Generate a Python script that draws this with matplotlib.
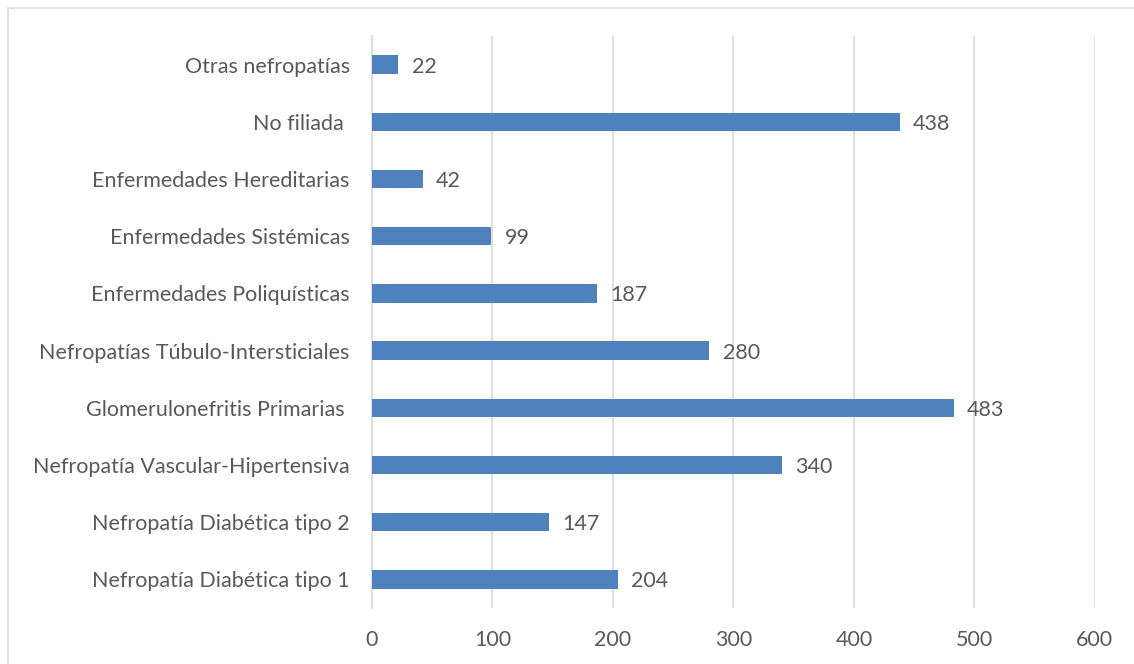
import matplotlib.pyplot as plt
from matplotlib.patches import Rectangle

plt.rcParams['font.family'] = ['Lato', 'DejaVu Sans']

categories = ["Nefropatía Diabética tipo 1", "Nefropatía Diabética tipo 2",
              "Nefropatía Vascular-Hipertensiva", "Glomerulonefritis Primarias ",
              "Nefropatías Túbulo-Intersticiales", "Enfermedades Poliquísticas",
              "Enfermedades Sistémicas", "Enfermedades Hereditarias",
              "No filiada ", "Otras nefropatías"]
values = [204, 147, 340, 483, 280, 187, 99, 42, 438, 22]
xticks = [0, 100, 200, 300, 400, 500, 600]

bar_color = '#4F81BD'
text_color = '#595959'
grid_color = '#D9D9D9'
fsize = 15.5

fig = plt.figure(figsize=(11.34, 6.64), dpi=100)
ax = fig.add_axes([0.328, 0.0843, 0.6375, 0.8615])

ax.barh(range(len(categories)), values, height=0.32, color=bar_color, zorder=3)
for i, v in enumerate(values):
    ax.text(v + 11, i, str(v), va='center_baseline', ha='left', fontsize=fsize, color=text_color)

ax.set_xlim(0, 600)
ax.set_ylim(-0.5, len(categories) - 0.5)
ax.set_xticks(xticks)
ax.set_xticklabels([str(t) for t in xticks], fontsize=fsize, color=text_color)
ax.set_yticks(range(len(categories)))
ax.set_yticklabels(categories, fontsize=fsize, color=text_color)
ax.tick_params(axis='both', length=0)
ax.tick_params(axis='y', pad=16)
ax.tick_params(axis='x', pad=16)
ax.xaxis.grid(True, color=grid_color, linewidth=1.2, zorder=0)
for s in ['top', 'right', 'bottom']:
    ax.spines[s].set_visible(False)
ax.spines['left'].set_color(grid_color)
ax.spines['left'].set_linewidth(1.2)

fig.patches.append(Rectangle((8 / 1134, -0.1), 1.0, 1.1 - 8 / 664, transform=fig.transFigure,
                             fill=False, edgecolor=grid_color, linewidth=1.2))

fig.savefig('out.png', dpi=100)
